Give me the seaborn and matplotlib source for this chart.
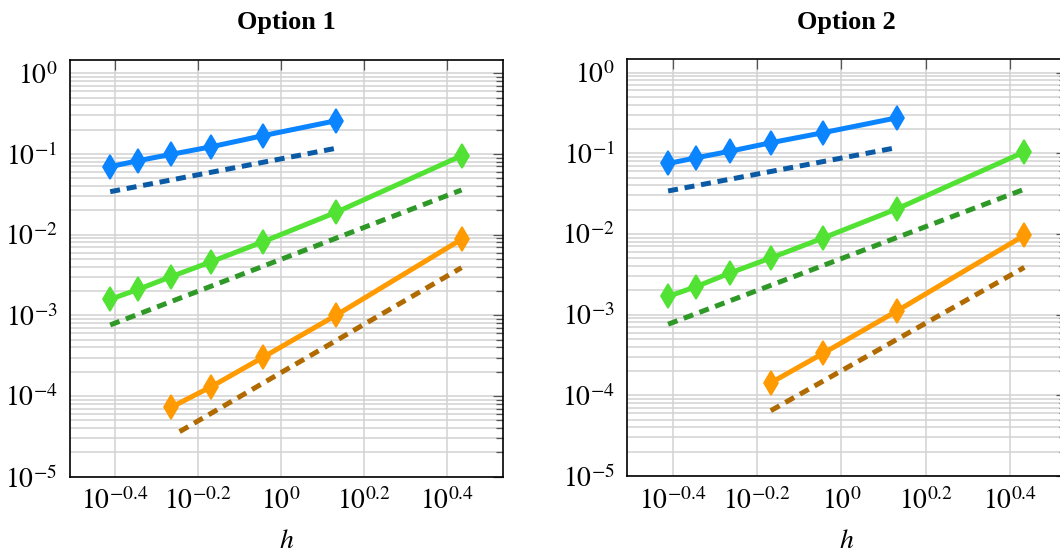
import numpy as np
import pandas as pd
import matplotlib
matplotlib.use("Agg")
import matplotlib.pyplot as plt
import matplotlib.ticker as mticker
import seaborn as sns

# ---------------- data ----------------
h = [0.388, 0.453, 0.544, 0.680, 0.906, 1.359, 2.718]

# Option 1
blue1 = [0.0697, 0.0826, 0.099, 0.123, 0.169, 0.259]          # h[0:6]
green1 = [1.58e-3, 2.10e-3, 3.02e-3, 4.63e-3, 8.19e-3, 0.0190, 0.0953]  # h[0:7]
orange1 = [7.26e-5, 1.31e-4, 3.03e-4, 1.01e-3, 8.77e-3]        # h[2:7]

# Option 2
blue2 = [0.0747, 0.0879, 0.106, 0.135, 0.180, 0.276]
green2 = [1.68e-3, 2.23e-3, 3.28e-3, 5.04e-3, 8.92e-3, 0.0206, 0.104]
orange2 = [1.43e-4, 3.32e-4, 1.12e-3, 9.6e-3]                  # h[3:7]

# reference (dashed) slope lines: endpoints
ref_blue_h = [0.388, 1.359]
ref_blue = [0.0341, 0.118]
ref_green_h = [0.388, 2.718]
ref_green = [7.6e-4, 0.0358]
ref_orange1_h = [0.570, 2.718]
ref_orange1 = [3.62e-5, 3.9e-3]
ref_orange2_h = [0.680, 2.718]
ref_orange2 = [6.45e-5, 3.85e-3]

titles = ["Option 1", "Option 2"]
xtick_vals = [-0.4, -0.2, 0.0, 0.2, 0.4]
xtick_labels = [r"$10^{-0.4}$", r"$10^{-0.2}$", r"$10^{0}$", r"$10^{0.2}$", r"$10^{0.4}$"]
ytick_exps = [0, -1, -2, -3, -4, -5]
xlabel = "h"

# ---------------- style ----------------
sns.set_theme(style="white")
plt.rcParams["font.family"] = ["Liberation Serif", "DejaVu Serif"]
plt.rcParams["mathtext.fontset"] = "stix"
for k in ["text.color", "axes.labelcolor", "xtick.labelcolor", "ytick.labelcolor"]:
    plt.rcParams[k] = "black"

c_blue, c_blue_d = "#0a84ff", "#0b5aa5"
c_green, c_green_d = "#52e233", "#2e9926"
c_orange, c_orange_d = "#ff9a00", "#b06a00"

fig = plt.figure(figsize=(10.6, 5.56), dpi=100)
ax1 = fig.add_axes([0.066, 0.1426, 0.4085, 0.7495])
ax2 = fig.add_axes([0.5918, 0.1439, 0.4142, 0.7495])

LW = 3.6
DASH = (0, (2.0, 1.35))


def solid(ax, xs, ys, color):
    df = pd.DataFrame({"h": xs, "err": ys})
    sns.lineplot(data=df, x="h", y="err", ax=ax, color=color, lw=LW,
                 marker="d", markersize=12.5, markeredgewidth=1.2,
                 markeredgecolor=color, sort=False, zorder=4)


def dashed(ax, xs, ys, color):
    df = pd.DataFrame({"h": xs, "err": ys})
    sns.lineplot(data=df, x="h", y="err", ax=ax, color=color, lw=LW,
                 linestyle=DASH, sort=False, zorder=3)


panels = [
    (ax1, blue1, green1, orange1, h[2:], ref_orange1_h, ref_orange1),
    (ax2, blue2, green2, orange2, h[3:], ref_orange2_h, ref_orange2),
]

for i, (ax, b, g, o, oh, roh, ro) in enumerate(panels):
    ax.set_xscale("log")
    ax.set_yscale("log")
    dashed(ax, ref_blue_h, ref_blue, c_blue_d)
    dashed(ax, ref_green_h, ref_green, c_green_d)
    dashed(ax, roh, ro, c_orange_d)
    solid(ax, h[:6], b, c_blue)
    solid(ax, h, g, c_green)
    solid(ax, oh, o, c_orange)

    ax.set_xlim(10 ** -0.508, 10 ** 0.534)
    ax.set_ylim(1e-5, 10 ** 0.165)

    ax.xaxis.set_major_locator(mticker.FixedLocator([10 ** v for v in xtick_vals]))
    ax.xaxis.set_major_formatter(mticker.FixedFormatter(xtick_labels))
    ax.xaxis.set_minor_locator(mticker.NullLocator())
    ax.yaxis.set_major_locator(mticker.FixedLocator([10.0 ** e for e in ytick_exps]))
    ax.yaxis.set_major_formatter(mticker.FixedFormatter([rf"$10^{{{e}}}$" for e in ytick_exps]))
    ax.yaxis.set_minor_locator(mticker.LogLocator(base=10, subs=np.arange(2, 10), numticks=20))
    ax.yaxis.set_minor_formatter(mticker.NullFormatter())

    ax.grid(True, which="major", color="#d2d2d2", lw=1.1, zorder=0)
    ax.grid(True, which="minor", axis="y", color="#d2d2d2", lw=1.1, zorder=0)
    ax.set_axisbelow(True)

    ax.tick_params(which="both", direction="in", top=True, right=True,
                   color="#555555", width=0.9, labelsize=20, labelcolor="black")
    ax.tick_params(which="major", length=7)
    ax.tick_params(axis="x", which="major", pad=8.5)
    ax.tick_params(which="minor", length=5)
    ax.tick_params(axis="y", which="major", pad=9)

    for s in ax.spines.values():
        s.set_visible(True)
        s.set_color("black")
        s.set_linewidth(1.2)

    ax.set_title(titles[i], fontsize=19, fontweight="bold", pad=22, color="black")
    ax.set_xlabel(r"$h$", fontsize=20, labelpad=10, color="black")
    ax.set_ylabel("")

fig.savefig("out.png", dpi=100)
